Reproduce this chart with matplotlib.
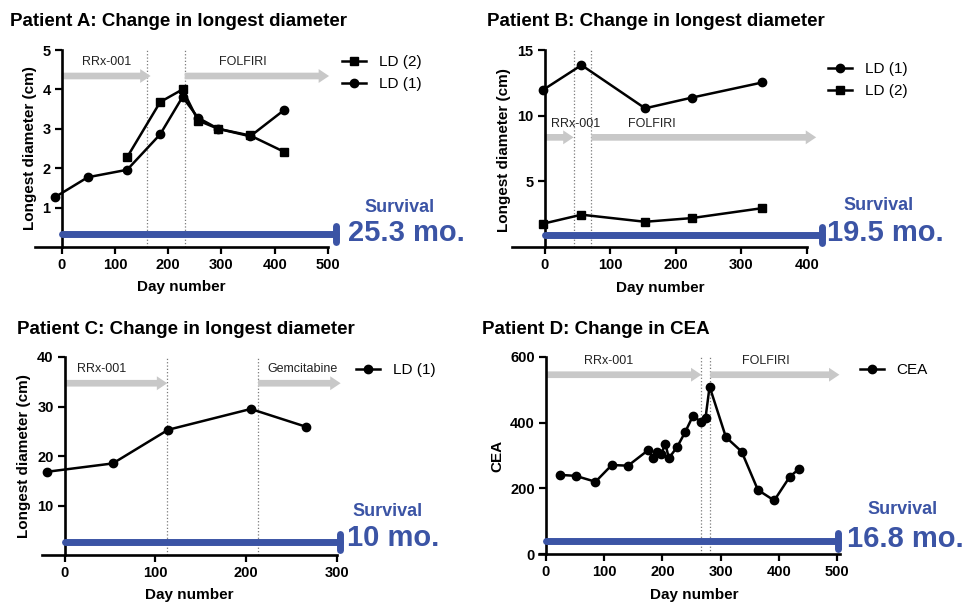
import matplotlib
matplotlib.use('Agg')
import matplotlib.pyplot as plt
from matplotlib.markers import MarkerStyle

plt.rcParams['font.family'] = ['Liberation Sans', 'DejaVu Sans']

W, H = 964, 603
DPI = 100

BLUE = '#3b54a5'
ARROW_GRAY = '#c8c8c8'
DOT_GRAY = '#7a7a7a'

# ── Patient A ────────────────────────────────────────────────────────────────
a_ld1_day = [-13, 49, 123, 185, 227, 256, 294, 354, 417]
a_ld1_cm = [1.26, 1.77, 1.96, 2.86, 3.81, 3.28, 3.00, 2.81, 3.47]
a_ld2_day = [123, 185, 227, 256, 294, 354, 417]
a_ld2_cm = [2.28, 3.68, 4.00, 3.21, 3.00, 2.83, 2.42]
a_switch = [161, 231]
a_survival_day = 515
a_survival_txt = '25.3 mo.'

# ── Patient B ────────────────────────────────────────────────────────────────
b_ld1_day = [-3, 56, 153, 224, 332]
b_ld1_cm = [11.95, 13.85, 10.56, 11.37, 12.53]
b_ld2_day = [-3, 56, 153, 224, 332]
b_ld2_cm = [1.77, 2.46, 1.92, 2.20, 2.96]
b_switch = [44, 71]
b_survival_day = 423
b_survival_txt = '19.5 mo.'

# ── Patient C ────────────────────────────────────────────────────────────────
c_ld1_day = [-20, 53, 114, 205, 266]
c_ld1_cm = [16.8, 18.5, 25.3, 29.5, 25.9]
c_switch = [113, 213]
c_survival_day = 303
c_survival_txt = '10 mo.'

# ── Patient D ────────────────────────────────────────────────────────────────
d_cea_day = [24, 51, 85, 113, 141, 176, 183, 190, 198, 205, 211, 225, 239,
             252, 267, 274, 281, 309, 336, 364, 392, 419, 434]
d_cea = [241, 238, 220, 271, 269, 317, 292, 310, 305, 336, 292, 325, 371,
         419, 403, 414, 510, 356, 312, 195, 163, 236, 258]
d_switch = [267, 282]
d_survival_day = 501
d_survival_txt = '16.8 mo.'


def fx(x):
    return x / W


def fy(y):
    return 1 - y / H


fig = plt.figure(figsize=(W / DPI, H / DPI), dpi=DPI)
fig.patch.set_facecolor('white')


def panel(left, top, right, bottom, xlim, ylim, xticks, yticks):
    ax = fig.add_axes([fx(left), fy(bottom), (right - left) / W, (bottom - top) / H])
    ax.set_xlim(*xlim)
    ax.set_ylim(*ylim)
    ax.spines['top'].set_visible(False)
    ax.spines['right'].set_visible(False)
    ax.spines['left'].set_position(('data', 0))
    for s in ('left', 'bottom'):
        ax.spines[s].set_linewidth(1.9)
    ax.set_xticks(xticks)
    ax.set_yticks(yticks)
    ax.tick_params(width=1.6, length=5, labelsize=10.5, pad=3)
    for lab in ax.get_xticklabels() + ax.get_yticklabels():
        lab.set_fontweight('bold')
    ax.patch.set_alpha(0)
    return ax


def switches(ax, days, ylim):
    for d in days:
        ax.plot([d, d], ylim, ls=':', color=DOT_GRAY, lw=0.9, zorder=1)


def arrow(ax, x0, x1, y, label, lx, ly):
    ax.annotate('', xy=(x1, y), xytext=(x0, y),
                arrowprops=dict(arrowstyle='simple,head_width=1.0,head_length=0.75,tail_width=0.48',
                                mutation_scale=10, color=ARROW_GRAY, lw=0,
                                shrinkA=0, shrinkB=0), annotation_clip=False, zorder=1)
    ax.text(lx, ly, label, ha='center', va='center', fontsize=9, color='#222222')


def survival(ax, end, y, txt, sx, sy, tx, ty):
    ax.plot([0, end], [y, y], color=BLUE, lw=5, solid_capstyle='round',
            clip_on=False, zorder=4)
    ax.plot([end], [y], marker=MarkerStyle('|', capstyle='round'), ms=12, mew=5,
            color=BLUE, clip_on=False, zorder=4)
    fig.text(fx(sx), fy(sy), 'Survival', ha='center', va='center', fontsize=13,
             fontweight='bold', color=BLUE)
    fig.text(fx(tx), fy(ty), txt, ha='center', va='center', fontsize=21,
             fontweight='bold', color=BLUE)


def labels(ax, ylabel, ylx, yly, xlx, xly):
    ax.set_ylabel(ylabel, fontsize=11, fontweight='bold')
    ax.yaxis.set_label_coords(fx(ylx), fy(yly), transform=fig.transFigure)
    ax.set_xlabel('Day number', fontsize=11, fontweight='bold')
    ax.xaxis.set_label_coords(fx(xlx), fy(xly), transform=fig.transFigure)
    ax.xaxis.label.set_va('center')
    ax.yaxis.label.set_va('center')


def legend(ax, x, y):
    ax.legend(loc='upper left', bbox_to_anchor=(fx(x), fy(y)), bbox_transform=fig.transFigure,
              frameon=False, fontsize=11, handlelength=1.6, handletextpad=0.8,
              borderpad=0, borderaxespad=0, labelspacing=0.55)


line_kw = dict(color='black', lw=1.8, ms=6, clip_on=False, zorder=3)

# Panel A
fig.text(fx(10), fy(22), 'Patient A: Change in longest diameter', fontsize=13.5,
         fontweight='bold', va='center', ha='left')
ax = panel(35, 50, 328, 247, (-50, 500), (0, 5), [0, 100, 200, 300, 400, 500], [1, 2, 3, 4, 5])
switches(ax, a_switch, (0, 5))
arrow(ax, 0, 167, 4.34, 'RRx-001', 84, 4.7)
arrow(ax, a_switch[1], 502, 4.34, 'FOLFIRI', 340, 4.7)
ax.plot(a_ld2_day, a_ld2_cm, marker='s', label='LD (2)', **line_kw)
ax.plot(a_ld1_day, a_ld1_cm, marker='o', label='LD (1)', **line_kw)
survival(ax, a_survival_day, 0.32, a_survival_txt, 400, 208, 406, 233)
labels(ax, 'Longest diameter (cm)', 30, 148, 181, 287)
legend(ax, 342, 55)

# Panel B
fig.text(fx(487), fy(22), 'Patient B: Change in longest diameter', fontsize=13.5,
         fontweight='bold', va='center', ha='left')
ax = panel(512, 50, 807, 247, (-50, 400), (0, 15), [0, 100, 200, 300, 400], [5, 10, 15])
switches(ax, b_switch, (0, 15))
arrow(ax, 0, b_switch[0], 8.35, 'RRx-001', 47, 9.4)
arrow(ax, b_switch[1], 414, 8.35, 'FOLFIRI', 163, 9.4)
ax.plot(b_ld1_day, b_ld1_cm, marker='o', label='LD (1)', **line_kw)
ax.plot(b_ld2_day, b_ld2_cm, marker='s', label='LD (2)', **line_kw)
survival(ax, b_survival_day, 0.94, b_survival_txt, 879, 205, 885, 233)
labels(ax, 'Longest diameter (cm)', 504, 150, 660, 288)
legend(ax, 828, 62)

# Panel C
fig.text(fx(17), fy(329), 'Patient C: Change in longest diameter', fontsize=13.5,
         fontweight='bold', va='center', ha='left')
ax = panel(42, 357, 337, 555, (-25, 300), (0, 40), [0, 100, 200, 300], [10, 20, 30, 40])
switches(ax, c_switch, (0, 40))
arrow(ax, 0, c_switch[0], 34.7, 'RRx-001', 41, 37.6)
arrow(ax, c_switch[1], 304, 34.7, 'Gemcitabine', 262, 37.6)
ax.plot(c_ld1_day, c_ld1_cm, marker='o', label='LD (1)', **line_kw)
survival(ax, c_survival_day, 2.7, c_survival_txt, 388, 512, 393, 538)
labels(ax, 'Longest diameter (cm)', 24, 456, 189, 595)
legend(ax, 356, 363)

# Panel D
fig.text(fx(482), fy(330), 'Patient D: Change in CEA', fontsize=13.5,
         fontweight='bold', va='center', ha='left')
ax = panel(539, 357, 840, 554, (-12, 505), (0, 600), [0, 100, 200, 300, 400, 500],
           [0, 200, 400, 600])
switches(ax, d_switch, (0, 600))
arrow(ax, 0, d_switch[0], 546, 'RRx-001', 108, 587)
arrow(ax, d_switch[1], 504, 546, 'FOLFIRI', 378, 587)
ax.plot(d_cea_day, d_cea, marker='o', label='CEA', **line_kw)
survival(ax, d_survival_day, 40, d_survival_txt, 903, 509, 905, 539)
labels(ax, 'CEA', 497, 456, 694, 595)
legend(ax, 860, 363)

fig.savefig('out.png', dpi=DPI, facecolor='white')
